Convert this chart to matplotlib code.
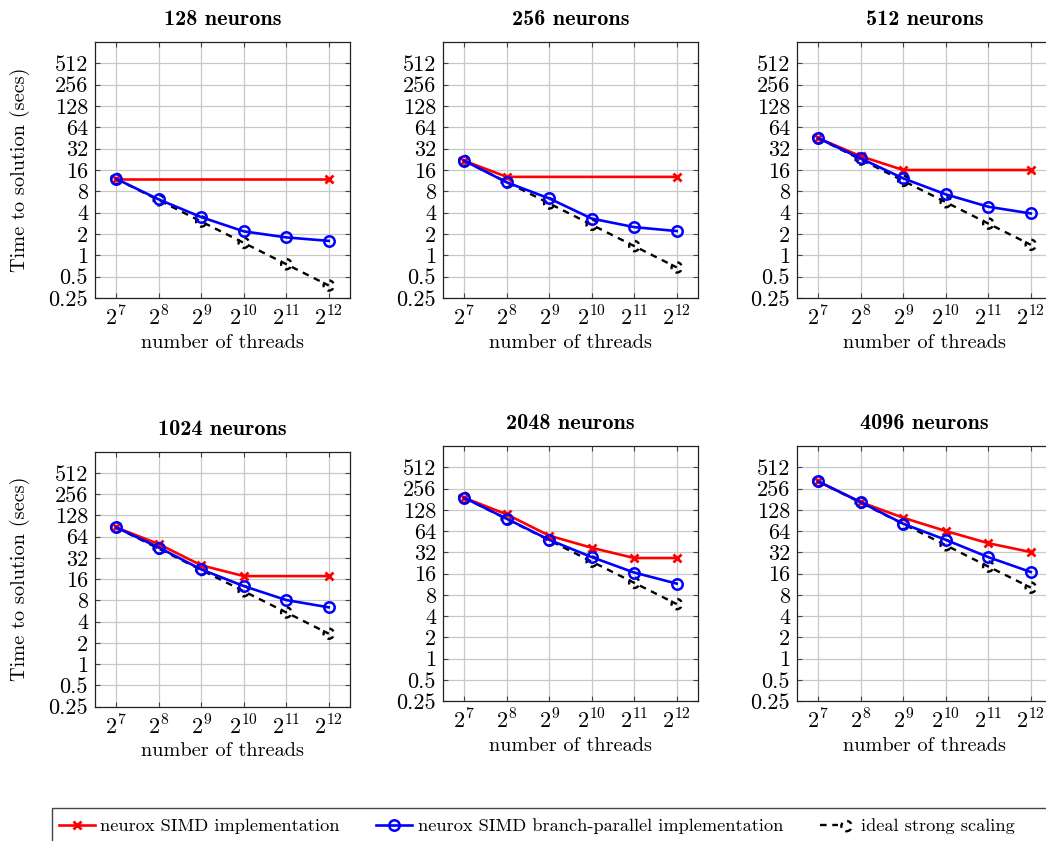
import matplotlib
matplotlib.use("Agg")
import matplotlib.pyplot as plt
from matplotlib.lines import Line2D
from matplotlib.patches import Rectangle
from matplotlib.legend_handler import HandlerTuple

plt.rcParams['font.family'] = ['cmr10', 'DejaVu Serif']
plt.rcParams['mathtext.fontset'] = 'cm'
plt.rcParams['axes.unicode_minus'] = False
plt.rcParams['axes.formatter.use_mathtext'] = True

# ---------------- data ----------------
threads = [128, 256, 512, 1024, 2048, 4096]
titles = ["128 neurons", "256 neurons", "512 neurons",
          "1024 neurons", "2048 neurons", "4096 neurons"]

red_x = [
    [128, 4096],
    [128, 256, 4096],
    [128, 256, 512, 4096],
    [128, 256, 512, 1024, 4096],
    [128, 256, 512, 1024, 2048, 4096],
    [128, 256, 512, 1024, 2048, 4096],
]
red_y = [
    [12, 12],
    [21.6, 12.8, 12.8],
    [45, 25, 16, 16],
    [86, 50, 25, 17.6, 17.6],
    [189, 110, 55, 37, 26.5, 26.5],
    [322, 164, 98.5, 64, 43, 32.2],
]
blue_y = [
    [12, 6.15, 3.46, 2.18, 1.79, 1.6],
    [21.6, 10.7, 6.35, 3.3, 2.5, 2.2],
    [45, 23.3, 12.2, 7.25, 4.85, 3.9],
    [86, 44.7, 21.9, 12.7, 8.05, 6.35],
    [189, 95.5, 48, 27.3, 16.5, 11.5],
    [322, 164, 81, 48, 27.3, 16.8],
]
ideal_y = [
    [12, 6, 3, 1.5, 0.75, 0.375],
    [21.6, 10.8, 5.4, 2.7, 1.35, 0.675],
    [45, 22.5, 11.25, 5.63, 2.81, 1.41],
    [86, 43, 21.5, 10.75, 5.38, 2.69],
    [189, 94.5, 47.3, 23.6, 11.8, 5.9],
    [322, 161, 80.5, 40.3, 20.1, 10.1],
]
ytick_vals = [0.25, 0.5, 1, 2, 4, 8, 16, 32, 64, 128, 256, 512]
ytick_labels = ["0.25", "0.5", "1", "2", "4", "8", "16", "32", "64", "128", "256", "512"]
xtick_labels = [r"$2^{7}$", r"$2^{8}$", r"$2^{9}$", r"$2^{10}$", r"$2^{11}$", r"$2^{12}$"]
legend_labels = ["neurox SIMD implementation",
                 "neurox SIMD branch-parallel implementation",
                 "ideal strong scaling"]

# ---------------- layout (pixels) ----------------
W, H = 1046, 841
fig = plt.figure(figsize=(W / 100, H / 100), dpi=100)

boxes = [  # left, top, width, height in pixels
    (95, 42, 255, 256),
    (443, 42, 255, 256),
    (797, 42, 255, 256),
    (95, 451.5, 255, 255),
    (443, 446, 255, 255),
    (797, 446, 255, 255),
]

TICK_FS = 16
TITLE_FS = 16
LABEL_FS = 14.6
RED = "#ff0000"
BLUE = "#0000ff"
LW = 1.9

scat = None
for i, (l, t, w, h) in enumerate(boxes):
    ax = fig.add_axes([l / W, 1 - (t + h) / H, w / W, h / H])
    ax.set_xscale("log", base=2)
    ax.set_yscale("log", base=2)
    ax.set_xlim(2 ** 6.5, 2 ** 12.5)
    ax.set_ylim(0.25, 1024)
    ax.grid(True, which="major", color="#c8c8c8", linewidth=0.9, zorder=0)
    ax.set_axisbelow(True)

    ax.plot(threads, ideal_y[i], color="black", linewidth=1.7,
            dashes=(2.8, 2.4), zorder=3)
    scat = ax.scatter(threads, ideal_y[i], s=55, facecolors="none",
                      edgecolors="black", linewidths=1.7,
                      linestyles=(0, (2.2, 2.2)), zorder=3)
    ax.plot(red_x[i], red_y[i], color=RED, linewidth=LW, marker="x",
            markersize=5.5, markeredgewidth=2.0, zorder=4)
    ax.plot(threads, blue_y[i], color=BLUE, linewidth=LW, marker="o",
            markersize=7.5, markerfacecolor="none", markeredgewidth=1.8, zorder=5)

    ax.set_xticks(threads)
    ax.set_xticklabels(xtick_labels)
    ax.set_yticks(ytick_vals)
    ax.set_yticklabels(ytick_labels)
    ax.minorticks_off()
    ax.tick_params(axis="both", which="major", direction="in", length=3.5,
                   width=0.8, color="#444444", top=True, right=True,
                   labelsize=TICK_FS)
    ax.tick_params(axis="x", pad=5.5)
    ax.tick_params(axis="y", pad=5)
    for sp in ax.spines.values():
        sp.set_linewidth(0.9)
        sp.set_color("#222222")

    ax.set_title(titles[i], family="cmb10", fontsize=TITLE_FS, pad=12)
    ax.set_xlabel("number of threads", fontsize=LABEL_FS)
    ax.xaxis.set_label_coords(0.5, -0.14)
    if i % 3 == 0:
        ax.set_ylabel("Time to solution (secs)", fontsize=LABEL_FS)
        ax.yaxis.set_label_coords(-0.255, 0.5)

# ---------------- legend ----------------
h_red = Line2D([], [], color=RED, linewidth=LW, marker="x", markersize=5.5,
               markeredgewidth=2.0)
h_blue = Line2D([], [], color=BLUE, linewidth=LW, marker="o", markersize=7.5,
                markerfacecolor="none", markeredgewidth=1.8)
h_line = Line2D([], [], color="black", linewidth=1.7, dashes=(2.8, 2.4))
leg = fig.legend([h_red, h_blue, (h_line, scat)], legend_labels,
                 loc="center left", bbox_to_anchor=(59 / W, 1 - 826 / H),
                 ncol=3, frameon=False, fontsize=13.2, borderpad=0,
                 borderaxespad=0, scatterpoints=1,
                 handlelength=1.95, handletextpad=0.3, columnspacing=2.0,
                 handler_map={tuple: HandlerTuple(ndivide=None)})

fig.patches.append(Rectangle((52 / W, -0.05), 1.05, 1 - 808 / H + 0.05,
                             transform=fig.transFigure, fill=False,
                             edgecolor="#444444", linewidth=1.0))

fig.savefig("out.png", dpi=100)
